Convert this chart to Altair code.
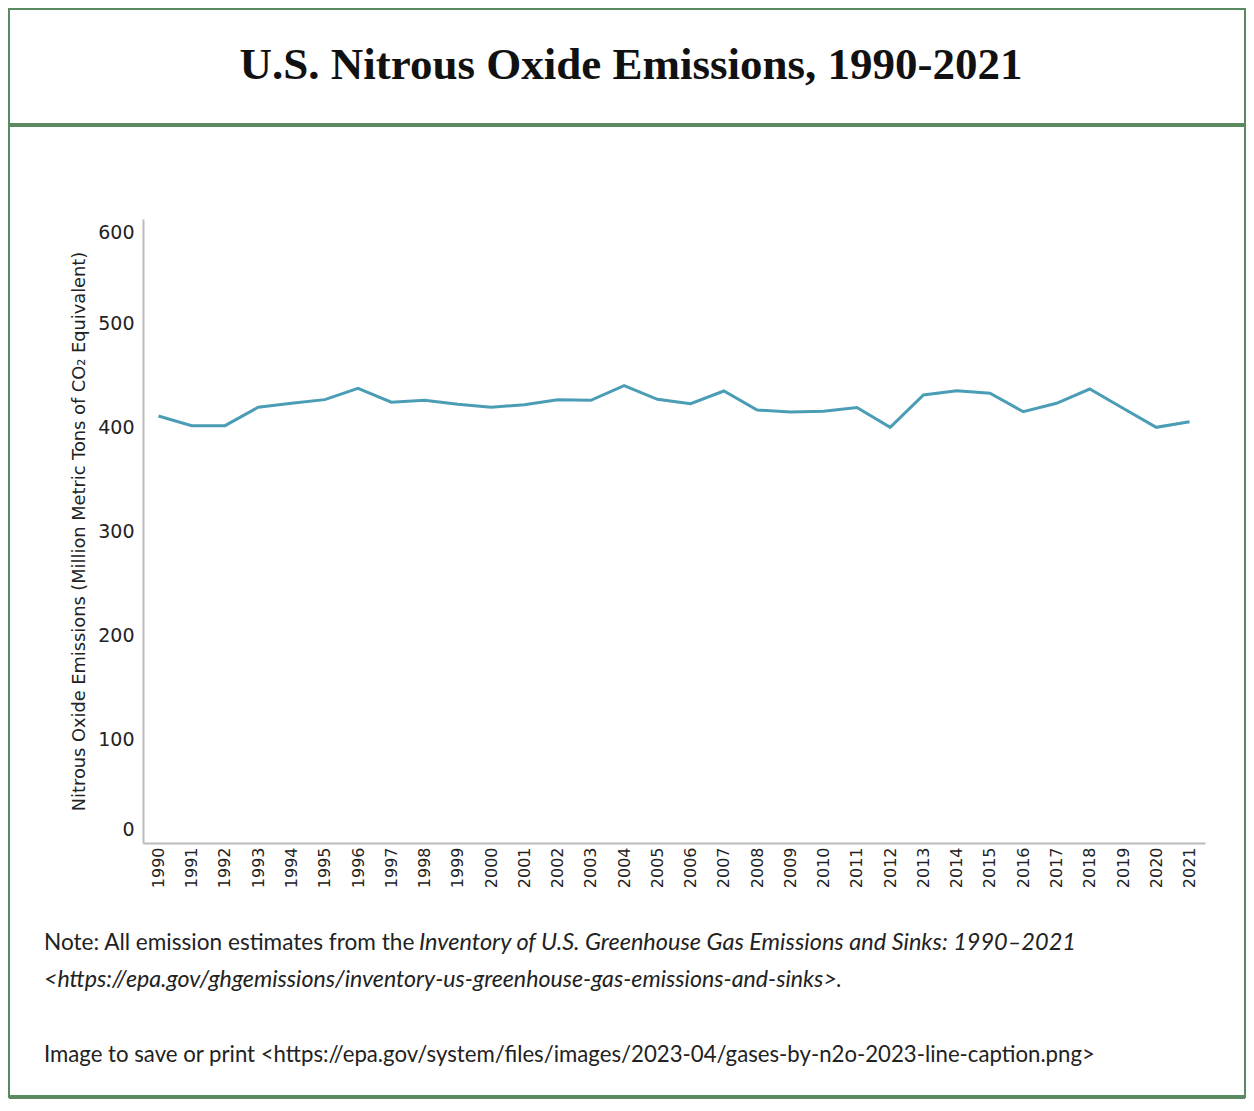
import altair as alt
import pandas as pd

years = list(range(1990, 2022))
emissions = [410.6, 401.3, 401.3, 419.0, 422.8, 426.3, 437.2, 423.8, 425.7, 421.8,
             419.0, 421.4, 426.3, 425.7, 439.7, 426.6, 422.4, 434.6, 416.3, 414.4,
             415.1, 418.8, 399.7, 430.8, 434.9, 432.4, 414.7, 422.8, 436.5, 418.0,
             399.7, 405.1]
y_ticks = [0, 100, 200, 300, 400, 500, 600]

title_text = "U.S. Nitrous Oxide Emissions, 1990-2021"
y_title = "Nitrous Oxide Emissions (Million Metric Tons of CO\u2082 Equivalent)"
note_regular = "Note: All emission estimates from the"
note_italic = "Inventory of U.S. Greenhouse Gas Emissions and Sinks: 1990\u20132021"
note_link = "<https://epa.gov/ghgemissions/inventory-us-greenhouse-gas-emissions-and-sinks>"
image_note = "Image to save or print <https://epa.gov/system/files/images/2023-04/gases-by-n2o-2023-line-caption.png>"

df = pd.DataFrame({"year": years, "value": emissions})
one = pd.DataFrame({"a": [0]})

GREEN = "#5b8a60"
TXT = "#222222"

line = alt.Chart(df).mark_line(color="#4a9db5", strokeWidth=3).encode(
    x=alt.X("year:O", scale=alt.Scale(type="point", padding=0.465),
            axis=alt.Axis(labelAngle=270, ticks=False, labelFontSize=16,
                          labelFont="DejaVu Sans", labelColor=TXT, labelPadding=4,
                          domainColor="#bbbbbb", domainWidth=2, title="", grid=False)),
    y=alt.Y("value:Q", scale=alt.Scale(domain=[0, 600], nice=False, zero=True),
            axis=alt.Axis(values=y_ticks, ticks=False, labelFlush=True,
                          labelFlushOffset=-4,
                          labelPadding=9, labelFontSize=19, labelFont="DejaVu Sans",
                          labelColor=TXT, title=y_title, titleFont="DejaVu Sans",
                          titleFontSize=17.8, titleFontWeight="normal", titleColor=TXT,
                          titlePadding=9, domainColor="#bbbbbb", domainWidth=2,
                          grid=False)),
)

def txt(x, y, text, **kw):
    params = dict(align="left", baseline="middle", font="Lato", fontSize=22.2, color=TXT)
    params.update(kw)
    return alt.Chart(one).mark_text(**params).encode(
        x=alt.value(x), y=alt.value(y), text=alt.value(text))

title = txt(488, -154, title_text, align="center", font="Liberation Serif",
            fontSize=45, fontWeight="bold", color="#111111")
n1 = txt(-99, 724, note_regular, fontSize=22.6)
n2 = txt(276, 724, note_italic, fontStyle="italic", fontSize=23.5)
n3 = txt(-99, 761, note_link, fontStyle="italic", fontSize=23.2)
n4 = txt(693, 761, ".")
n5 = txt(-99, 836, image_note)

box = alt.Chart(one).mark_rect(fillOpacity=0, stroke=GREEN, strokeWidth=2).encode(
    x=alt.value(-134), x2=alt.value(1102), y=alt.value(-210), y2=alt.value(878))
sep = alt.Chart(one).mark_rule(color=GREEN, strokeWidth=4).encode(
    x=alt.value(-134), x2=alt.value(1102), y=alt.value(-94))
bottom = alt.Chart(one).mark_rule(color=GREEN, strokeWidth=4).encode(
    x=alt.value(-134), x2=alt.value(1102), y=alt.value(878))

chart = alt.layer(box, sep, bottom, line, title, n1, n2, n3, n4, n5).properties(
    width=1062, height=624,
    padding={"left": 135, "top": 211, "right": 41, "bottom": 257},
    autosize=alt.AutoSizeParams(type="none"),
    background="white",
).configure_view(stroke="transparent", strokeWidth=0)

chart.save("out.html", embed_options={"renderer": "svg", "actions": False})
